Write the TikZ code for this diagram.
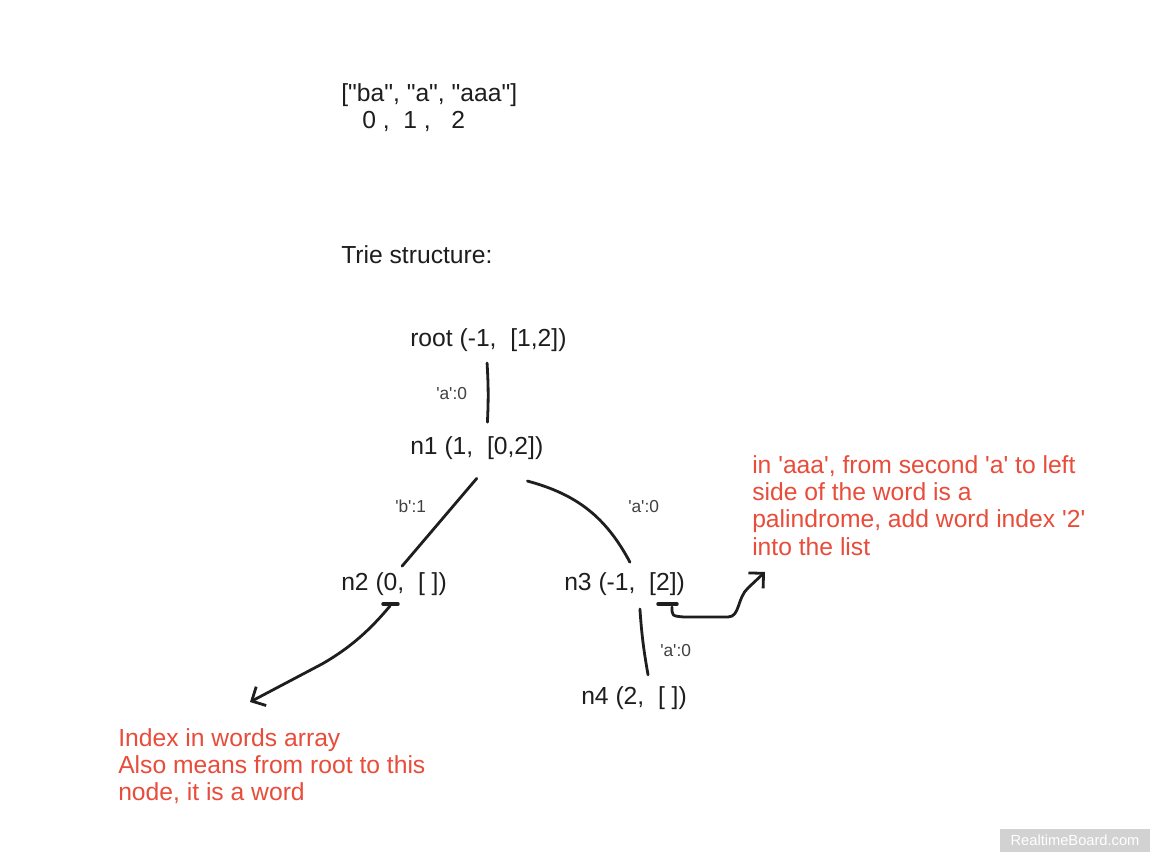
\documentclass[tikz,border=0pt]{standalone}
\usepackage{fontspec}
\usepackage{tikz}
\usetikzlibrary{arrows.meta}
\newfontfamily\boardfont{Liberation Sans}
\definecolor{ink}{RGB}{30,30,30}
\definecolor{note}{RGB}{232,76,58}
\definecolor{stamp}{RGB}{210,210,210}

\begin{document}
\begin{tikzpicture}[x=0.75pt,y=-0.75pt,
  txt/.style={anchor=base west, inner sep=0pt, text=ink, font=\boardfont\fontsize{18.5}{20.5}\selectfont},
  lbl/.style={anchor=base west, inner sep=0pt, text=ink!85, font=\boardfont\fontsize{13}{15}\selectfont},
  memo/.style={anchor=north west, inner sep=0pt, align=left, text=note, font=\boardfont\fontsize{18.5}{20.5}\selectfont},
  edge/.style={line width=2.1pt, line cap=round, draw=ink},
  pen/.style={edge, line join=round, -{Straight Barb[length=8pt,width=16pt]}}]
\fill[white] (0,0) rectangle (1158,862);
\useasboundingbox (0,0) rectangle (1158,862);

\node [txt] (words) at (341,102) {["ba", "a", "aaa"]};
\node [txt] (index) at (362,129) {0 ,\ \ 1 ,\ \ \ 2};
\node [txt] (title) at (341,264) {Trie structure:};

\node [txt] (root) at (410,347) {root (-1,\ \ [1,2])};
\node [txt] (n1) at (410,455) {n1 (1,\ \ [0,2])};
\node [txt] (n2) at (341,591) {n2 (0,\ \ [ ])};
\node [txt] (n3) at (564,591) {n3 (-1,\ \ [2])};
\node [txt] (n4) at (581,705) {n4 (2,\ \ [ ])};

\node [lbl] (l1) at (436,400) {'a':0};
\node [lbl] (l2) at (395,513) {'b':1};
\node [lbl] (l3) at (628,513) {'a':0};
\node [lbl] (l4) at (660,657) {'a':0};

\draw[edge] ([xshift=-1pt,yshift=-8pt]root.south) to[bend left=3] ([xshift=8pt,yshift=11pt]n1.north);
\draw[edge] ([yshift=-13.5pt]n1.south) -- ([xshift=6pt,yshift=5pt]n2.north);
\draw[edge] ([xshift=38pt,yshift=-15.5pt]n1.south) to[out=-15,in=118] ([xshift=4pt,yshift=8pt]n3.north);
\draw[edge] ([xshift=11.5pt,yshift=-9.5pt]n3.south) to[bend right=3] ([xshift=10.5pt,yshift=9pt]n4.north);

\draw[edge, line width=2.6pt] (383,604) -- (398,604);
\draw[edge, line width=2.6pt] (658,604) -- (677,604);

\coordinate (markA) at (390,606);
\coordinate (tipA) at (250,702);
\coordinate (markB) at (672,607);
\coordinate (tipB) at (765,572);

\draw[pen] (markA) .. controls (370,630) and (350,648) .. (322,664) -- (tipA);
\draw[pen] (markB) .. controls (672,616) .. (684,617) -- (728,617) .. controls (740,617) and (737,598) .. (748,588) -- (tipB);

\node [memo] (noteB) at (752,455) {in 'aaa', from second 'a' to left\\side of the word is a\\palindrome, add word index '2'\\into the list};
\node [memo] (noteA) at (118,728) {Index in words array\\Also means from root to this\\node, it is a word};

\node [fill=stamp, text=white, minimum width=112pt, minimum height=17pt, inner sep=0pt, font=\boardfont\fontsize{11}{12}\selectfont] (stampbox) at (1075,840.5) {RealtimeBoard.com};
\end{tikzpicture}
\end{document}
